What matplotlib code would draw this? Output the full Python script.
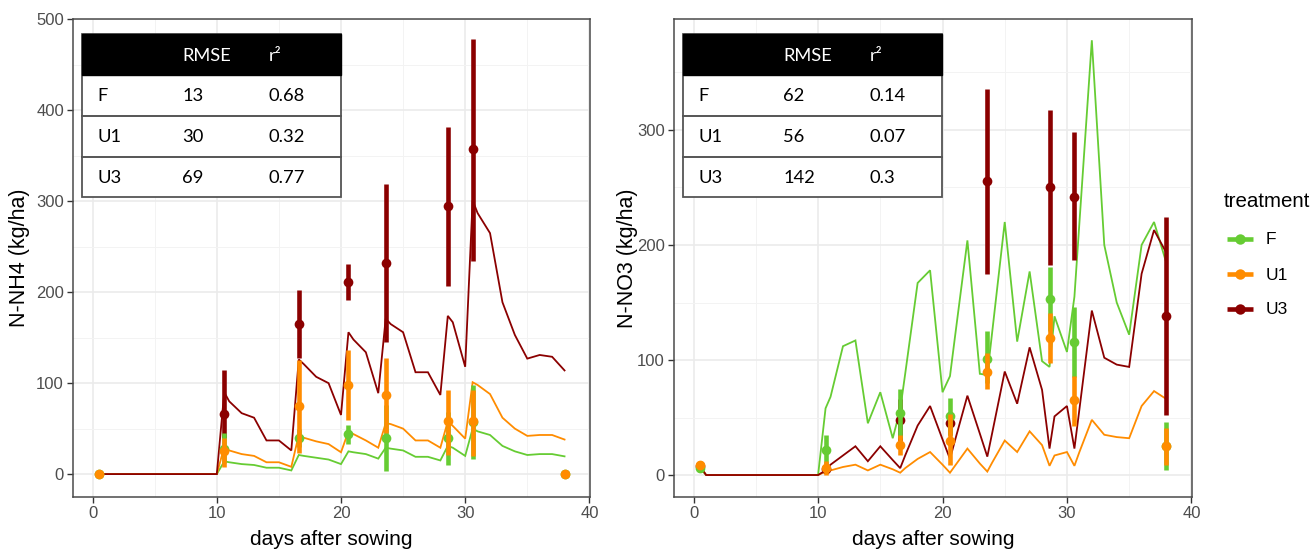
import numpy as np
import matplotlib
matplotlib.use("Agg")
import matplotlib.pyplot as plt
from matplotlib.patches import Rectangle
from matplotlib.ticker import MultipleLocator

# ---------------- data ----------------
treatments = ["F", "U1", "U3"]
colors = ["#66CC33", "#FF8C00", "#8B0000"]

model_days = [0.5, 1, 10, 10.6, 11, 12, 13, 14, 15, 16, 16.6, 17, 18, 19, 20,
              20.6, 21, 22, 23, 23.6, 24, 25, 26, 27, 28, 28.6, 29, 30, 30.6,
              31, 32, 33, 34, 35, 36, 37, 38]

# N-NH4 simulated
nh4_model_F = [0, 0, 0, 14, 13, 11, 10, 7, 7, 4, 21, 20, 18, 16, 11,
               25, 24, 22, 17, 29, 28, 26, 19, 19, 15, 31, 29, 20, 50,
               47, 43, 31, 25, 21, 22, 22, 19.5]
nh4_model_U1 = [0, 0, 0, 30, 26, 22, 20, 13, 13, 8, 43, 40, 36, 33, 24,
                47, 44, 37, 29, 56, 55, 50, 37, 37, 29, 58, 53, 39, 101,
                98, 88, 62, 50, 42, 43, 43, 38]
nh4_model_U3 = [0, 0, 0, 90, 80, 67, 62, 37, 37, 26, 126, 121, 107, 100, 65,
                156, 148, 134, 89, 171, 165, 156, 112, 112, 87, 174, 167, 118, 301,
                287, 265, 189, 153, 127, 131, 129, 114]

# N-NO3 simulated
no3_model_F = [6, 0, 0, 58, 68, 112, 117, 45, 72, 32, 57, 88, 167, 178, 72,
               86, 120, 204, 88, 87, 125, 220, 116, 177, 99, 94, 138, 107, 155,
               219, 378, 200, 150, 122, 200, 220, 184]
no3_model_U1 = [8, 0, 0, 3, 4, 7, 9, 4, 9, 5, 2, 6, 14, 20, 9,
                2, 8, 23, 10, 3, 11, 30, 20, 38, 26, 8, 17, 20, 8,
                20, 48, 35, 33, 32, 60, 73, 66]
no3_model_U3 = [8, 0, 0, 4, 9, 17, 25, 12, 25, 13, 6, 17, 43, 60, 31,
                14, 30, 69, 36, 16, 37, 90, 62, 111, 74, 23, 51, 60, 23,
                57, 143, 102, 96, 94, 175, 213, 193]

obs_days = [0.5, 10.6, 16.6, 20.6, 23.6, 28.6, 30.6, 38]
nan = np.nan

# N-NH4 observed (mean, low, high)
nh4_obs_F = [0, 28, 40, 44, 40, 40, 57, 0]
nh4_lo_F = [0, 12, 30, 33, 3, 10, 17, 0]
nh4_hi_F = [0, 45, 50, 54, 76, 68, 98, 0]
nh4_obs_U1 = [0, 25, 75, 98, 87, 58, 58, 0]
nh4_lo_U1 = [0, 8, 23, 59, 45, 21, 20, 0]
nh4_hi_U1 = [0, 40, 126, 137, 128, 92, 92, 0]
nh4_obs_U3 = [nan, 66, 165, 211, 232, 295, 357, nan]
nh4_lo_U3 = [nan, 40, 128, 191, 145, 207, 234, nan]
nh4_hi_U3 = [nan, 114, 202, 231, 319, 382, 478, nan]

# N-NO3 observed
no3_obs_F = [6, 22, 54, 51, 101, 153, 116, 25]
no3_lo_F = [3, 8, 32, 35, 80, 125, 85, 4]
no3_hi_F = [9, 35, 75, 67, 125, 181, 146, 46]
no3_obs_U1 = [9, 6, 26, 30, 90, 119, 65, 25]
no3_lo_U1 = [5, 0, 17, 9, 75, 97, 43, 9]
no3_hi_U1 = [12, 12, 35, 53, 106, 141, 86, 41]
no3_obs_U3 = [8, 5, 48, 45, 256, 250, 242, 138]
no3_lo_U3 = [6, 2, 30, 35, 175, 183, 187, 52]
no3_hi_U3 = [10, 8, 66, 55, 336, 317, 298, 224]

table_header = ["", "RMSE", "r²"]
nh4_rmse = ["13", "30", "69"]
nh4_r2 = ["0.68", "0.32", "0.77"]
no3_rmse = ["62", "56", "142"]
no3_r2 = ["0.14", "0.07", "0.3"]

ylabels = ["N-NH4 (kg/ha)", "N-NO3 (kg/ha)"]
xlabel = "days after sowing"
legend_title = "treatment"

# ---------------- figure ----------------
W, H = 1312, 549
fig = plt.figure(figsize=(W / 100, H / 100), dpi=100)
fig.patch.set_facecolor("white")

AX_FONT = "Liberation Sans"
TAB_FONT = "Lato"


def px_axes(left, top, right, bottom):
    return fig.add_axes([left / W, 1 - bottom / H, (right - left) / W, (bottom - top) / H])


axL = px_axes(73, 19, 590, 497)
axR = px_axes(674, 19, 1192, 497)

panels = [
    (axL, [nh4_model_F, nh4_model_U1, nh4_model_U3],
     [(nh4_obs_F, nh4_lo_F, nh4_hi_F), (nh4_obs_U1, nh4_lo_U1, nh4_hi_U1),
      (nh4_obs_U3, nh4_lo_U3, nh4_hi_U3)],
     (-25.2, 500.5), 100),
    (axR, [no3_model_F, no3_model_U1, no3_model_U3],
     [(no3_obs_F, no3_lo_F, no3_hi_F), (no3_obs_U1, no3_lo_U1, no3_hi_U1),
      (no3_obs_U3, no3_lo_U3, no3_hi_U3)],
     (-19.1, 396.5), 100),
]

draw_order = [2, 0, 1]  # U3 below, then F, U1 on top

for ax, models, obs, ylim, ystep in panels:
    ax.set_xlim(-1.58, 40.05)
    ax.set_ylim(*ylim)
    ax.xaxis.set_major_locator(MultipleLocator(10))
    ax.xaxis.set_minor_locator(MultipleLocator(5))
    ax.yaxis.set_major_locator(MultipleLocator(ystep))
    ax.yaxis.set_minor_locator(MultipleLocator(ystep / 2))
    ax.set_axisbelow(True)
    ax.grid(which="major", color="#EBEBEB", lw=1.2)
    ax.grid(which="minor", color="#F3F3F3", lw=0.7)
    for s in ax.spines.values():
        s.set_color("#4A4A4A")
        s.set_linewidth(1.1)
    ax.tick_params(which="major", length=4, width=1, color="#333333",
                   labelsize=12, labelcolor="#4D4D4D", pad=2.5)
    ax.tick_params(which="minor", length=0)
    for lab in ax.get_xticklabels() + ax.get_yticklabels():
        lab.set_fontfamily(AX_FONT)

    for i in [0, 1, 2]:
        ax.plot(model_days, models[i], color=colors[i], lw=1.3, zorder=2,
                solid_joinstyle="miter")
    for rank, i in enumerate(draw_order):
        m, lo, hi = obs[i]
        z = 3 + rank * 0.1
        ax.vlines(obs_days, lo, hi, color=colors[i], lw=3.3, zorder=z)
        ax.plot(obs_days, m, "o", color=colors[i], ms=7, mec="none", zorder=z + 0.01)

# axis titles
fig.text(20 / W, 1 - 258 / H, ylabels[0], rotation=90, ha="center", va="center",
         fontsize=15.5, family=AX_FONT)
fig.text(627 / W, 1 - 258 / H, ylabels[1], rotation=90, ha="center", va="center",
         fontsize=15.5, family=AX_FONT)
fig.text(331.5 / W, 4 / H, xlabel, ha="center", va="baseline", fontsize=15, family=AX_FONT)
fig.text(933 / W, 4 / H, xlabel, ha="center", va="baseline", fontsize=15, family=AX_FONT)

# overlay in pixel coordinates for tables and legend
ov = fig.add_axes([0, 0, 1, 1], zorder=10)
ov.set_xlim(0, W)
ov.set_ylim(H, 0)
ov.axis("off")
ov.patch.set_alpha(0)


def draw_table(x0, rmse, r2):
    top, hh, rh, w = 34.3, 40.7, 40.8, 259
    total = hh + 3 * rh
    ov.add_patch(Rectangle((x0, top), w, total, facecolor="white",
                           edgecolor="#555555", lw=1.3, zorder=1))
    ov.add_patch(Rectangle((x0, top), w, hh, facecolor="black",
                           edgecolor="black", lw=1.0, zorder=2))
    for k in (1, 2):
        yy = top + hh + k * rh
        ov.plot([x0, x0 + w], [yy, yy], color="#555555", lw=1.4, zorder=3)
    cols = [x0 + 15.6, x0 + 100.6, x0 + 186.6]
    for c, txt in zip(cols, table_header):
        ov.text(c, top + hh / 2 + 1, txt, color="white", ha="left", va="center",
                fontsize=13.2, family=TAB_FONT, zorder=4)
    for r in range(3):
        yc = top + hh + (r + 0.5) * rh + 1
        for c, txt in zip(cols, [treatments[r], rmse[r], r2[r]]):
            ov.text(c, yc, txt, color="black", ha="left", va="center",
                    fontsize=13.2, family=TAB_FONT, zorder=4)


draw_table(81.7, nh4_rmse, nh4_r2)
draw_table(682.7, no3_rmse, no3_r2)

# legend
ov.text(1224, 207, legend_title, ha="left", va="baseline", fontsize=14.8, family=AX_FONT)
for i, yk in zip(range(3), [239, 274, 309]):
    ov.plot([1227, 1253], [yk, yk], color=colors[i], lw=3.3, solid_capstyle="butt")
    ov.plot([1240], [yk], "o", color=colors[i], ms=7.5, mec="none")
    ov.text(1266, yk + 1, treatments[i], ha="left", va="center", fontsize=12.5,
            family=AX_FONT)

fig.savefig("out.png", dpi=100, facecolor="white")
